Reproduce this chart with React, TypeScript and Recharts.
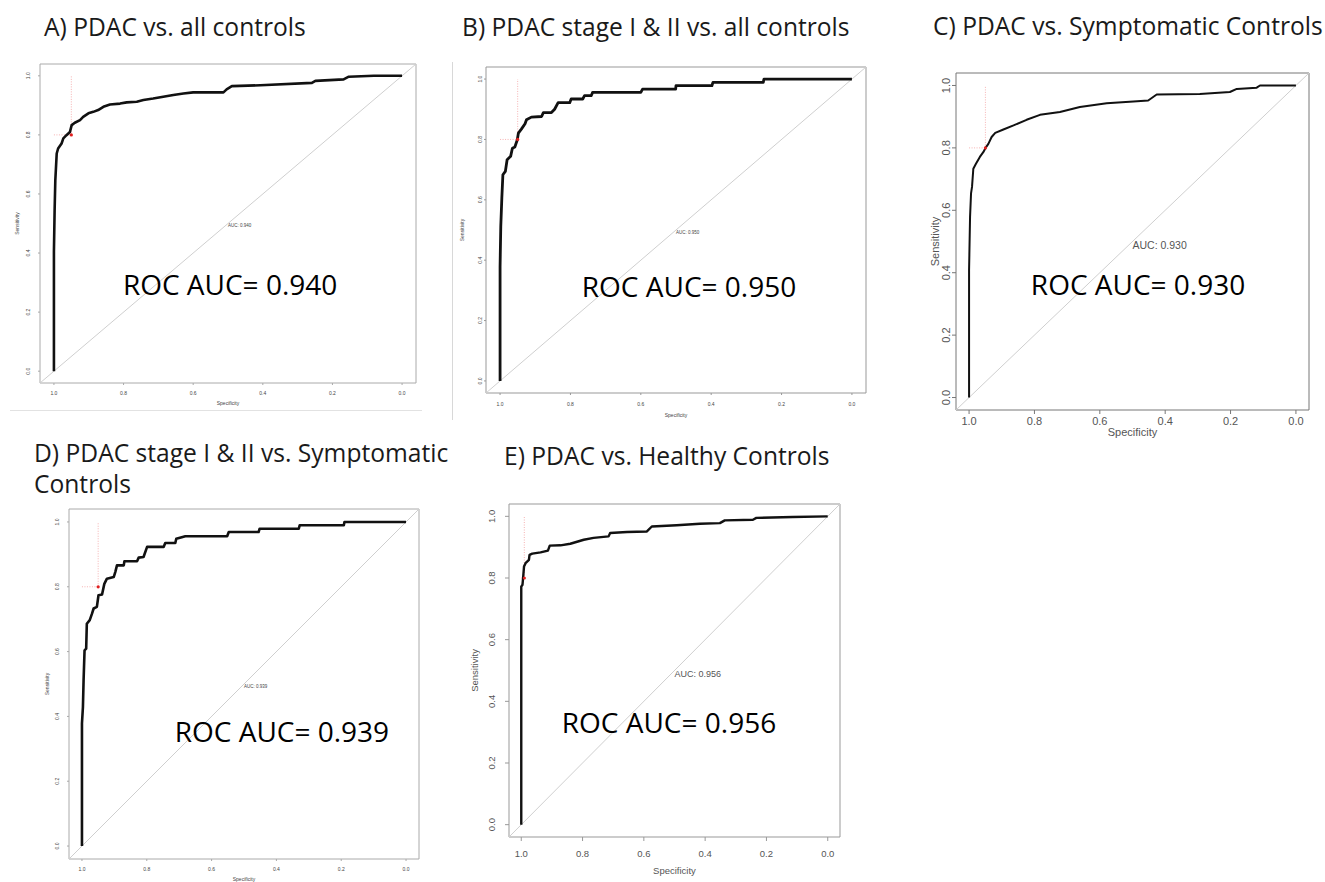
import { LineChart, Line, XAxis, YAxis, ReferenceLine, ReferenceArea, ReferenceDot } from 'recharts';

// Panel titles and printed AUCs
const titles = [
  ['A) PDAC vs. all controls'],
  ['B) PDAC stage I & II vs. all controls'],
  ['C) PDAC vs. Symptomatic Controls'],
  ['D) PDAC stage I & II vs. Symptomatic', 'Controls'],
  ['E) PDAC vs. Healthy Controls'],
];
const aucValues = [0.94, 0.95, 0.93, 0.939, 0.956];
const axisTicks = [0, 0.2, 0.4, 0.6, 0.8, 1.0];

// ROC curves: specificity / sensitivity pairs
const specA = [1.0, 1.0, 0.998, 0.996, 0.992, 0.988, 0.978, 0.973, 0.964, 0.954, 0.949, 0.94, 0.925, 0.916, 0.901, 0.887, 0.873, 0.858, 0.839, 0.81, 0.791, 0.762, 0.743, 0.715, 0.686, 0.657, 0.628, 0.6, 0.513, 0.504, 0.489, 0.407, 0.259, 0.249, 0.168, 0.153, 0.081, 0.0];
const sensA = [0, 0.404, 0.545, 0.647, 0.737, 0.754, 0.771, 0.788, 0.799, 0.81, 0.833, 0.841, 0.85, 0.861, 0.873, 0.878, 0.884, 0.895, 0.903, 0.906, 0.91, 0.912, 0.918, 0.923, 0.929, 0.935, 0.94, 0.944, 0.944, 0.954, 0.965, 0.968, 0.976, 0.983, 0.988, 0.997, 1.0, 1.0];

const specB = [1, 1, 0.998, 0.995, 0.992, 0.985, 0.98, 0.97, 0.965, 0.958, 0.951, 0.948, 0.939, 0.929, 0.925, 0.911, 0.882, 0.877, 0.854, 0.845, 0.835, 0.802, 0.798, 0.765, 0.76, 0.741, 0.737, 0.6, 0.595, 0.501, 0.5, 0.398, 0.395, 0.252, 0.25, 0];
const sensB = [0, 0.379, 0.512, 0.606, 0.683, 0.694, 0.733, 0.744, 0.771, 0.775, 0.799, 0.821, 0.835, 0.852, 0.865, 0.874, 0.876, 0.889, 0.889, 0.9, 0.922, 0.922, 0.934, 0.934, 0.945, 0.945, 0.956, 0.956, 0.967, 0.967, 0.978, 0.978, 0.989, 0.989, 1.0, 1.0];

const specC = [1, 1, 0.997, 0.994, 0.991, 0.987, 0.979, 0.967, 0.956, 0.949, 0.941, 0.931, 0.92, 0.895, 0.864, 0.824, 0.783, 0.722, 0.661, 0.579, 0.497, 0.452, 0.426, 0.294, 0.202, 0.181, 0.12, 0.11, 0];
const sensC = [0, 0.408, 0.579, 0.654, 0.675, 0.733, 0.749, 0.771, 0.787, 0.801, 0.813, 0.835, 0.848, 0.859, 0.872, 0.89, 0.906, 0.915, 0.931, 0.943, 0.949, 0.952, 0.971, 0.973, 0.979, 0.989, 0.993, 1, 1];

const specD = [1, 1, 0.997, 0.995, 0.992, 0.987, 0.985, 0.976, 0.969, 0.964, 0.954, 0.949, 0.938, 0.931, 0.923, 0.902, 0.897, 0.892, 0.871, 0.869, 0.83, 0.825, 0.81, 0.799, 0.748, 0.743, 0.712, 0.709, 0.681, 0.552, 0.547, 0.455, 0.452, 0.331, 0.328, 0.192, 0.19, 0];
const sensD = [0, 0.378, 0.429, 0.511, 0.604, 0.609, 0.686, 0.697, 0.717, 0.733, 0.738, 0.774, 0.776, 0.809, 0.825, 0.83, 0.846, 0.866, 0.866, 0.879, 0.879, 0.89, 0.892, 0.923, 0.923, 0.935, 0.935, 0.948, 0.956, 0.956, 0.969, 0.969, 0.979, 0.979, 0.99, 0.99, 1, 1];

const specE = [1, 1, 0.996, 0.994, 0.991, 0.986, 0.975, 0.973, 0.964, 0.937, 0.913, 0.907, 0.872, 0.84, 0.796, 0.764, 0.715, 0.71, 0.655, 0.59, 0.574, 0.493, 0.417, 0.352, 0.336, 0.244, 0.233, 0.114, 0];
const sensE = [0, 0.772, 0.778, 0.8, 0.837, 0.848, 0.859, 0.875, 0.879, 0.883, 0.889, 0.905, 0.906, 0.911, 0.924, 0.93, 0.935, 0.946, 0.949, 0.951, 0.967, 0.971, 0.976, 0.978, 0.987, 0.989, 0.995, 0.998, 1];

// best threshold markers
const thrSpec = [0.95, 0.95, 0.95, 0.95, 0.99];
const thrSens = [0.8, 0.8, 0.8, 0.8, 0.8];

const curves = [
  [specA, sensA],
  [specB, sensB],
  [specC, sensC],
  [specD, sensD],
  [specE, sensE],
];

// layout of each panel: plot box in page pixels + text styling
const panels = [
  { box: [40, 64, 416, 383], fs: 5, tick: 2, yTick: 12, yTitle: 23, xTick: 10, xTitle: 20, lw: 2.6, boxColor: '#aaa', txt: '#444', big: [0.494, 0.291] },
  { box: [486, 67, 866, 393], fs: 5, tick: 2, yTick: 6, yTitle: 24, xTick: 11, xTitle: 22, lw: 2.8, boxColor: '#999', txt: '#444', big: [0.463, 0.312] },
  { box: [956, 73, 1309, 410], fs: 11, tick: 4, yTick: 9.5, yTitle: 21, xTick: 11, xTitle: 22.5, lw: 2, boxColor: '#777', txt: '#555', big: [0.483, 0.361] },
  { box: [69, 509, 419, 859], fs: 5, tick: 2, yTick: 11.5, yTitle: 22, xTick: 10.5, xTitle: 20, lw: 2.6, boxColor: '#aaa', txt: '#444', big: [0.383, 0.351] },
  { box: [509, 504, 840, 837], fs: 9.5, tick: 4, yTick: 17, yTitle: 34, xTick: 16.7, xTitle: 34, lw: 2.4, boxColor: '#999', txt: '#555', big: [0.518, 0.329] },
];

const AXIS_W = 50;
const PAD = 10;
const BIG_FS = 28;

const RocPanel = ({ idx }: { idx: number }) => {
  const p = panels[idx];
  const [x0, y0, x1, y1] = p.box;
  const bw = x1 - x0;
  const bh = y1 - y0;
  const [spec, sens] = curves[idx];
  const data = spec.map((s, i) => ({ spec: s, sens: sens[i] }));
  const cap = 0.716 * p.fs;
  const sans = '"Liberation Sans", Arial, sans-serif';

  const xTick = (t: any) => (
    <text x={t.x} y={t.y - p.tick + p.xTick + cap / 2} textAnchor="middle" fontSize={p.fs} fontFamily={sans} fill={p.txt}>
      {Number(t.payload.value).toFixed(1)}
    </text>
  );
  const yTick = (t: any) => {
    const px = t.x + p.tick - p.yTick + cap / 2;
    return (
      <text x={px} y={t.y} transform={`rotate(-90, ${px}, ${t.y})`} textAnchor="middle" fontSize={p.fs} fontFamily={sans} fill={p.txt}>
        {Number(t.payload.value).toFixed(1)}
      </text>
    );
  };
  const xTitle = () => (
    <text x={AXIS_W + bw / 2} y={PAD + bh + p.xTitle + cap / 2} textAnchor="middle" fontSize={p.fs} fontFamily={sans} fill={p.txt}>
      Specificity
    </text>
  );
  const yTitle = () => {
    const px = AXIS_W - p.yTitle + cap / 2;
    const py = PAD + bh / 2;
    return (
      <text x={px} y={py} transform={`rotate(-90, ${px}, ${py})`} textAnchor="middle" fontSize={p.fs} fontFamily={sans} fill={p.txt}>
        Sensitivity
      </text>
    );
  };
  const bigLabel = (l: any) => {
    const vb = l.viewBox || {};
    const cx = (vb.x || 0) + (vb.width || 0) / 2;
    const cy = (vb.y || 0) + (vb.height || 0) / 2;
    return (
      <text x={cx} y={cy + 0.357 * BIG_FS} textAnchor="middle" fontSize={BIG_FS} fontFamily='"Open Sans", sans-serif' fill="#000">
        {`ROC AUC= ${aucValues[idx].toFixed(3)}`}
      </text>
    );
  };
  const aucLabel = (l: any) => {
    const vb = l.viewBox || {};
    return (
      <text x={vb.x || 0} y={(vb.y || 0) + cap} textAnchor="start" fontSize={p.fs - 0.5} fontFamily={sans} fill={p.txt}>
        {`AUC: ${aucValues[idx].toFixed(3)}`}
      </text>
    );
  };

  return (
    <div style={{ position: 'absolute', left: x0 - AXIS_W, top: y0 - PAD }}>
      <LineChart width={bw + AXIS_W + PAD} height={bh + AXIS_W + PAD} margin={{ top: PAD, right: PAD, left: 0, bottom: 0 }}>
        <XAxis
          type="number"
          dataKey="spec"
          domain={[-0.04, 1.04]}
          reversed
          allowDataOverflow
          ticks={axisTicks}
          interval={0}
          height={AXIS_W}
          axisLine={false}
          tickLine={{ stroke: p.boxColor }}
          tickSize={p.tick}
          tickMargin={0}
          tick={xTick}
          label={xTitle}
        />
        <YAxis
          type="number"
          dataKey="sens"
          domain={[-0.04, 1.04]}
          allowDataOverflow
          ticks={axisTicks}
          interval={0}
          width={AXIS_W}
          axisLine={false}
          tickLine={{ stroke: p.boxColor }}
          tickSize={p.tick}
          tickMargin={0}
          tick={yTick}
          label={yTitle}
        />
        <ReferenceArea x1={-0.04} x2={1.04} y1={-0.04} y2={1.04} fill="none" stroke={p.boxColor} strokeWidth={1} fillOpacity={0} />
        <ReferenceLine segment={[{ x: 1.04, y: -0.04 }, { x: -0.04, y: 1.04 }]} stroke="#cfcfcf" strokeWidth={1} />
        <ReferenceLine segment={[{ x: 1.0, y: thrSens[idx] }, { x: thrSpec[idx], y: thrSens[idx] }]} stroke="#f4a0a0" strokeWidth={0.8} strokeDasharray="1 1.5" />
        <ReferenceLine segment={[{ x: thrSpec[idx], y: thrSens[idx] }, { x: thrSpec[idx], y: 1.0 }]} stroke="#f4a0a0" strokeWidth={0.8} strokeDasharray="1 1.5" />
        <ReferenceDot x={0.5} y={0.5} r={0} fill="none" stroke="none" label={aucLabel} />
        <Line
          data={data}
          dataKey="sens"
          type="linear"
          stroke="#111"
          strokeWidth={p.lw}
          strokeLinejoin="round"
          dot={false}
          activeDot={false}
          isAnimationActive={false}
        />
        <ReferenceDot x={thrSpec[idx]} y={thrSens[idx]} r={1.6} fill="#e02020" stroke="none" />
        <ReferenceDot x={p.big[0]} y={p.big[1]} r={0} fill="none" stroke="none" label={bigLabel} />
      </LineChart>
    </div>
  );
};

const titlePos = [
  [44, 36],
  [462, 36],
  [933, 35],
  [34, 462],
  [504, 465],
];

export default function App() {
  return (
    <div style={{ position: 'absolute', left: 0, top: 0, width: 1325, height: 882, background: '#fff', overflow: 'hidden' }}>
      <svg width={1325} height={882} style={{ position: 'absolute', left: 0, top: 0 }}>
        {titles.map((lines, i) =>
          lines.map((t, j) => (
            <text key={`${i}-${j}`} x={titlePos[i][0]} y={titlePos[i][1] + j * 31} fontSize={24.6} fontFamily='"Open Sans", sans-serif' fill="#1a1a1a">
              {t}
            </text>
          ))
        )}
        <line x1={10} y1={410.5} x2={422} y2={410.5} stroke="#e2e2e2" strokeWidth={1} />
        <line x1={452.5} y1={62} x2={452.5} y2={420} stroke="#d8d8d8" strokeWidth={1} />
      </svg>
      {panels.map((_, i) => (
        <RocPanel key={i} idx={i} />
      ))}
    </div>
  );
}
